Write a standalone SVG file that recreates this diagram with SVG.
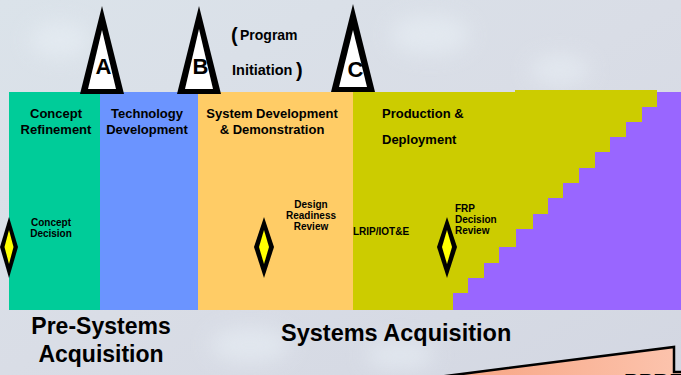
<svg xmlns="http://www.w3.org/2000/svg" width="681" height="375" viewBox="0 0 681 375">
<defs>
<linearGradient id="bg" x1="0" y1="0" x2="1" y2="1">
<stop offset="0" stop-color="#dbe3ea"/>
<stop offset="0.5" stop-color="#d9dde6"/>
<stop offset="1" stop-color="#d3d7e2"/>
</linearGradient>
<linearGradient id="pink" x1="0" y1="0" x2="1" y2="0">
<stop offset="0" stop-color="#f7a27f"/>
<stop offset="1" stop-color="#fcc4ae"/>
</linearGradient>
<filter id="blur" x="-50%" y="-50%" width="200%" height="200%"><feGaussianBlur stdDeviation="10"/></filter>
<style>
.t{font-family:"Liberation Sans",Arial,sans-serif;font-weight:bold;fill:#000}
.ph{font-size:13px}
.sm{font-size:10px}
.big{font-size:23px}
.ms{font-size:22px}
.tri{fill:#000}
.triin{fill:#fff}
.dia{fill:#000}
.diain{fill:#ffff00}
</style>
</defs>
<rect x="0" y="0" width="681" height="375" fill="url(#bg)"/>
<g filter="url(#blur)" fill="#eaf1f7" opacity="0.55">
<ellipse cx="60" cy="40" rx="30" ry="18"/>
<ellipse cx="430" cy="35" rx="40" ry="20"/>
<ellipse cx="560" cy="70" rx="30" ry="15"/>
<ellipse cx="250" cy="345" rx="40" ry="18"/>
<ellipse cx="400" cy="355" rx="35" ry="15"/>
</g>

<g id="phase-concept-refinement">
<rect x="9" y="92" width="91" height="218" fill="#00cc99"/>
<text class="t ph" x="56" y="118" text-anchor="middle">Concept</text>
<text class="t ph" x="56" y="134" text-anchor="middle">Refinement</text>
</g>
<g id="phase-technology-development">
<rect x="100" y="92" width="98" height="218" fill="#6b94ff"/>
<text class="t ph" x="147" y="118" text-anchor="middle">Technology</text>
<text class="t ph" x="147" y="134" text-anchor="middle">Development</text>
</g>
<g id="phase-sdd">
<rect x="198" y="92" width="155" height="218" fill="#ffcc66"/>
<text class="t ph" x="272" y="118" text-anchor="middle">System Development</text>
<text class="t ph" x="272" y="134" text-anchor="middle">&amp; Demonstration</text>
</g>
<g id="phase-production">
<rect x="353" y="92" width="328" height="218" fill="#cccc00"/>
<rect x="515" y="90" width="142" height="3" fill="#cccc00"/>
<text class="t ph" x="382" y="118">Production &amp;</text>
<text class="t ph" x="382" y="144">Deployment</text>
</g>
<g id="phase-operations">
<polygon fill="#9966ff" points="681,92 657,92 657,107 642,107 642,122 626,122 626,137 610,137 610,152 595,152 595,168 579,168 579,183 563,183 563,198 548,198 548,214 533,214 533,229 516,229 516,247 499,247 499,263 484,263 484,278 468,278 468,293 453,293 453,310 681,310"/>
</g>

<g id="milestone-A">
<polygon class="tri" points="102,6 80,94 124,94"/>
<polygon class="triin" points="102,30 88,89 116,89"/>
<text class="t ms" x="103.5" y="74" text-anchor="middle">A</text>
</g>
<g id="milestone-B">
<polygon class="tri" points="199,6 177,94 221,94"/>
<polygon class="triin" points="199,29 185,89 213,89"/>
<text class="t ms" x="200.5" y="74" text-anchor="middle">B</text>
</g>
<g id="milestone-C">
<polygon class="tri" points="353,4 331,92 375,92"/>
<polygon class="triin" points="353,30 339,87 367,87"/>
<text class="t ms" x="355.5" y="77" text-anchor="middle">C</text>
</g>
<g id="program-initiation">
<text class="t" x="231" y="42" font-size="20">(</text>
<text class="t" x="240" y="40" font-size="14">Program</text>
<text class="t" x="232" y="75" font-size="14.5">Initiation</text>
<text class="t" x="296" y="77" font-size="20">)</text>
</g>

<g id="concept-decision">
<polygon class="dia" points="9,217 18,247 9,278 0,247"/>
<polygon class="diain" points="9,230 13.5,247 9,264 4.5,247"/>
<text class="t sm" x="51" y="226" text-anchor="middle">Concept</text>
<text class="t sm" x="51" y="237" text-anchor="middle">Decision</text>
</g>
<g id="design-readiness-review">
<polygon class="dia" points="264,217 274,247 264,278 254,247"/>
<polygon class="diain" points="264,230 269,247 264,264 259,247"/>
<text class="t sm" x="311" y="208" text-anchor="middle">Design</text>
<text class="t sm" x="311" y="219" text-anchor="middle">Readiness</text>
<text class="t sm" x="311" y="230" text-anchor="middle">Review</text>
</g>
<g id="lrip">
<text class="t sm" x="353" y="235">LRIP/IOT&amp;E</text>
</g>
<g id="frp-decision-review">
<polygon class="dia" points="447,217 457,247 447,278 437,247"/>
<polygon class="diain" points="447,230 452,247 447,264 442,247"/>
<text class="t sm" x="455" y="212">FRP</text>
<text class="t sm" x="455" y="223">Decision</text>
<text class="t sm" x="455" y="234">Review</text>
</g>

<g id="label-pre-systems">
<text class="t big" x="101" y="334" text-anchor="middle">Pre-Systems</text>
<text class="t big" x="101" y="362" text-anchor="middle">Acquisition</text>
</g>
<g id="label-systems">
<text class="t" font-size="23.5" x="281" y="341">Systems Acquisition</text>
</g>

<g id="ppbe-shape">
<path d="M438,377 L674,347 L674,372 L683,372 L683,377 Z" fill="url(#pink)"/>
<path d="M438,377 L674,347 L674,372 L683,372" fill="none" stroke="#000" stroke-width="2.5"/>
<text class="t ms" x="624" y="389">PPBE</text>
</g>
</svg>
